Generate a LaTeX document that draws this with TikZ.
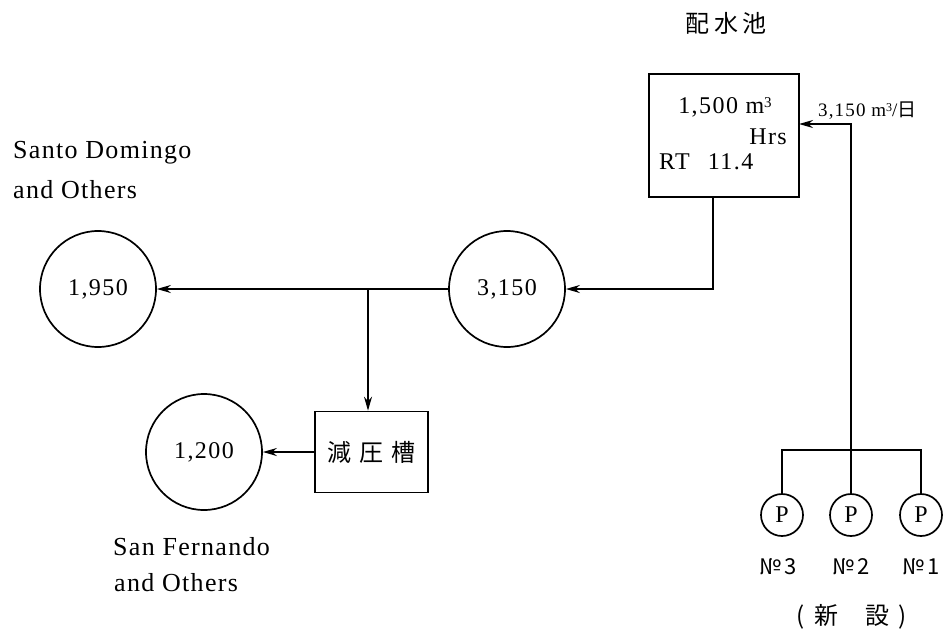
\documentclass[tikz,border=0pt]{standalone}
\usepackage{fontspec}
\setmainfont{Liberation Serif}
\newfontfamily\lab{Liberation Serif}[LetterSpace=5]
\newfontfamily\num{Liberation Serif}[LetterSpace=6]
\newfontfamily\jp{Noto Sans CJK JP}
\usetikzlibrary{arrows.meta}
\begin{document}
\begin{tikzpicture}[x=1pt,y=-1pt,
  every node/.style={inner sep=0pt},
  ln/.style={line width=1.7pt},
  arr/.style={ln,-{Stealth[length=14pt,width=8pt]}},
  circ/.style={draw,circle,line width=1.7pt,minimum size=116pt},
  pump/.style={draw,circle,line width=1.7pt,minimum size=42pt,font=\num\fontsize{24}{26}\selectfont},
  boxn/.style={draw,rectangle,line width=1.7pt},
  numt/.style={font=\num\fontsize{24}{26}\selectfont},
  labt/.style={font=\lab\fontsize{26}{28}\selectfont,anchor=west},
  jpt/.style={font=\jp\fontsize{24}{26}\selectfont},
  smt/.style={font=\num\fontsize{19}{21}\selectfont}
]
\useasboundingbox (0,0) rectangle (949,635);
% title
\node[jpt] (title) at (726,23) {配\hspace{5pt}水\hspace{5pt}池};
% reservoir
\node[boxn,minimum width=150pt,minimum height=123pt] (res) at (724,135.5) {};
\node[numt] (vol) at (725,107) {1,500 m{\fontsize{15}{16}\selectfont\raisebox{6pt}{3}}};
\node[numt,anchor=east] (hrs) at (787,137) {Hrs};
\node[numt,anchor=west] (rt) at (659,162) {RT\hspace{18pt}11.4};
\node[smt,anchor=west] (flow) at (818,111) {3,150 m{\fontsize{12}{13}\selectfont\raisebox{5pt}{3}}/{\jp 日}};
% circles
\node[circ,numt] (c3150) at (507,289) {3,150};
\node[circ,numt] (c1950) at (98,289) {1,950};
\node[circ,numt] (c1200) at (204,452) {1,200};
\node[boxn,minimum width=113pt,minimum height=81pt,jpt] (gen) at (371.5,452) {減\hspace{8pt}圧\hspace{8pt}槽};
% labels
\node[labt] (sd1) at (13,153) {Santo Domingo};
\node[labt] (sd2) at (13,190) {and Others};
\node[labt] (sf1) at (113,547) {San Fernando};
\node[labt] (sf2) at (114,583) {and Others};
% pumps
\node[pump] (P3) at (782,515) {P};
\node[pump] (P2) at (851,515) {P};
\node[pump] (P1) at (921,515) {P};
\node[font=\jp\fontsize{22}{24}\selectfont] (n3) at (778,567) {№\,3};
\node[font=\jp\fontsize{22}{24}\selectfont] (n2) at (851,567) {№\,2};
\node[font=\jp\fontsize{22}{24}\selectfont] (n1) at (921,567) {№\,1};
\node[jpt] (new) at (852,617) {(\hspace{10pt}新\hspace{26pt}設\hspace{10pt})};
% connectors
\coordinate (rin) at (799,124);
\coordinate (rout) at (713,197);
\coordinate (jn) at (368,289);
\draw[ln] (P3.north) -- ++(0,-43) -| (P1.north);
\draw[arr] (P2.north) -- (P2.north |- rin) -- (rin);
\draw[arr] (rout) |- (c3150.east);
\draw[arr] (c3150.west) -- (c1950.east);
\draw[arr] (jn) -- (jn |- gen.north);
\draw[arr] (gen.west) -- (c1200.east);
\end{tikzpicture}
\end{document}
